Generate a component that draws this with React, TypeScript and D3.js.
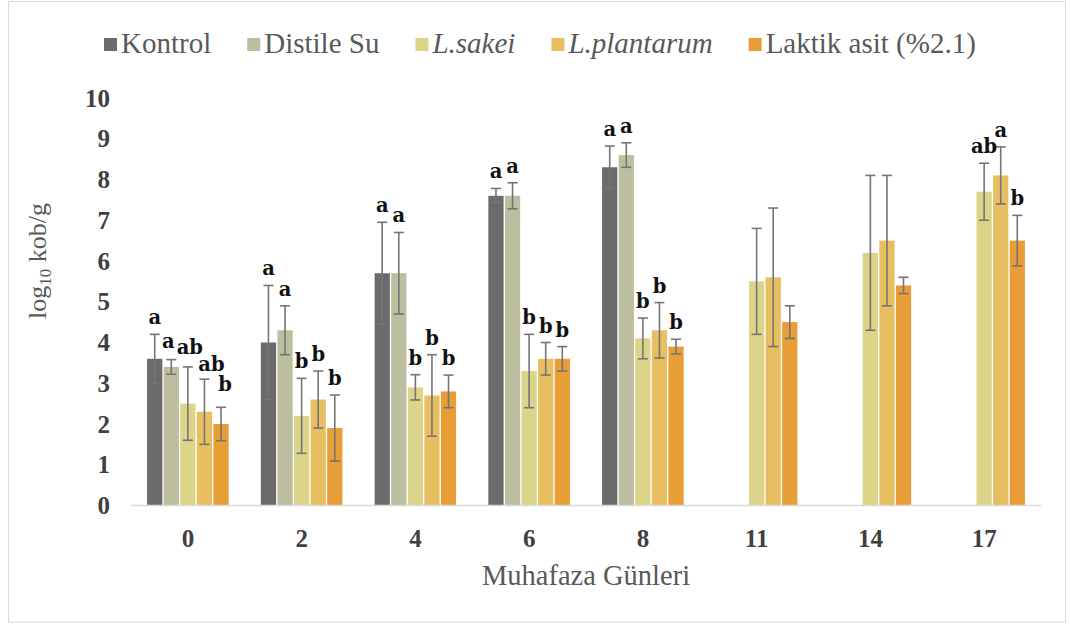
import React, { useEffect, useRef } from "react";
import * as d3 from "d3";

const days = ["0", "2", "4", "6", "8", "11", "14", "17"];
const seriesNames = ["Kontrol", "Distile Su", "L.sakei", "L.plantarum", "Laktik asit (%2.1)"];
const seriesItalic = [false, false, true, true, false];
const seriesColors = ["#6b6b6b", "#bdbda0", "#dcd489", "#e7be60", "#e99d37"];

const kontrol = [3.6, 4.0, 5.7, 7.6, 8.3, null, null, null];
const kontrolErr = [0.6, 1.4, 1.25, 0.18, 0.52, null, null, null];
const distile = [3.4, 4.3, 5.7, 7.6, 8.6, null, null, null];
const distileErr = [0.18, 0.6, 1.0, 0.32, 0.3, null, null, null];
const sakei = [2.5, 2.2, 2.9, 3.3, 4.1, 5.5, 6.2, 7.7];
const sakeiErr = [0.9, 0.92, 0.31, 0.9, 0.5, 1.3, 1.9, 0.7];
const plantarum = [2.3, 2.6, 2.7, 3.6, 4.3, 5.6, 6.5, 8.1];
const plantarumErr = [0.8, 0.7, 1.0, 0.4, 0.68, 1.7, 1.6, 0.7];
const laktik = [2.0, 1.9, 2.8, 3.6, 3.9, 4.5, 5.4, 6.5];
const laktikErr = [0.41, 0.81, 0.4, 0.3, 0.18, 0.4, 0.2, 0.62];

const kontrolLetters = ["a", "a", "a", "a", "a", "", "", ""];
const distileLetters = ["a", "a", "a", "a", "a", "", "", ""];
const sakeiLetters = ["ab", "b", "b", "b", "b", "", "", "ab"];
const plantarumLetters = ["ab", "b", "b", "b", "b", "", "", "a"];
const laktikLetters = ["b", "b", "b", "b", "b", "", "", "b"];

// small manual nudges of the letter labels in the crowded first group (dx, dy) per series
const firstGroupNudgeX = [0, -3, 2, 7, 4];
const firstGroupNudgeY = [0, -2, -3, 2, -6];

const yTicks = [0, 1, 2, 3, 4, 5, 6, 7, 8, 9, 10];

const seriesValues = [kontrol, distile, sakei, plantarum, laktik];
const seriesErrors = [kontrolErr, distileErr, sakeiErr, plantarumErr, laktikErr];
const seriesLetters = [kontrolLetters, distileLetters, sakeiLetters, plantarumLetters, laktikLetters];

const W = 1070;
const H = 624;
const SERIF = "'Liberation Serif', 'Times New Roman', serif";

export default function App() {
  const legendRef = useRef<SVGGElement>(null);

  const x0 = d3.scaleBand<string>().domain(days).range([131, 1041]).paddingInner(0.283).paddingOuter(0.1415);
  const x1 = d3.scaleBand<number>().domain(d3.range(5)).range([0, x0.bandwidth()]).paddingInner(0.08);
  const y = d3.scaleLinear().domain([0, 10]).range([505.5, 98]);

  useEffect(() => {
    const g = d3.select(legendRef.current);
    g.selectAll("*").remove();
    let cx = 104;
    seriesNames.forEach((name, i) => {
      g.append("rect").attr("x", cx).attr("y", 38).attr("width", 13).attr("height", 13).attr("fill", seriesColors[i]);
      const t = g
        .append("text")
        .attr("x", cx + 17)
        .attr("y", 53)
        .attr("font-family", SERIF)
        .attr("font-size", 29)
        .attr("font-style", seriesItalic[i] ? "italic" : "normal")
        .attr("fill", "#595959")
        .text(name);
      const w = (t.node() as SVGTextElement).getComputedTextLength();
      cx = cx + 17 + w + 36;
    });
  }, []);

  const bars: any[] = [];
  seriesValues.forEach((vals, s) => {
    vals.forEach((v, d) => {
      if (v == null) return;
      bars.push({ s, d, v, e: seriesErrors[s][d], l: seriesLetters[s][d] });
    });
  });

  const cap = 5;

  return (
    <svg width={W} height={H} style={{ position: "absolute", left: 0, top: 0 }}>
      <rect x={0} y={0} width={W} height={H} fill="#ffffff" />
      <rect x={8.5} y={1.5} width={1057} height={620.5} fill="none" stroke="#d9d9d9" strokeWidth={1} />
      <g ref={legendRef} />
      {yTicks.map((t) => (
        <text
          key={t}
          x={110}
          y={y(t)}
          dy="0.34em"
          textAnchor="end"
          fontFamily={SERIF}
          fontWeight="bold"
          fontSize={25}
          fill="#404040"
        >
          {t}
        </text>
      ))}
      <text
        transform="translate(46,261) rotate(-90)"
        textAnchor="middle"
        fontFamily={SERIF}
        fontSize={26}
        fill="#595959"
      >
        log
        <tspan fontSize={17} dy="0.3em">10</tspan>
        <tspan dy="-0.19em"> kob/g</tspan>
      </text>
      {bars.map((b) => {
        const bx = (x0(days[b.d]) as number) + (x1(b.s) as number);
        return (
          <rect
            key={`b${b.s}-${b.d}`}
            x={bx}
            y={y(b.v)}
            width={x1.bandwidth()}
            height={y(0) - y(b.v)}
            fill={seriesColors[b.s]}
          />
        );
      })}
      <line x1={131} x2={1041} y1={y(0)} y2={y(0)} stroke="#d9d9d9" strokeWidth={1.5} />
      {bars.map((b) => {
        const cx = (x0(days[b.d]) as number) + (x1(b.s) as number) + x1.bandwidth() / 2;
        const top = y(b.v + b.e);
        const bot = y(b.v - b.e);
        return (
          <g key={`e${b.s}-${b.d}`} stroke="#757575" strokeWidth={1.6}>
            <line x1={cx} x2={cx} y1={top} y2={bot} />
            <line x1={cx - cap} x2={cx + cap} y1={top} y2={top} />
            <line x1={cx - cap} x2={cx + cap} y1={bot} y2={bot} />
          </g>
        );
      })}
      {bars.map((b) => {
        if (!b.l) return null;
        const cx = (x0(days[b.d]) as number) + (x1(b.s) as number) + x1.bandwidth() / 2;
        const nx = b.d === 0 ? firstGroupNudgeX[b.s] : 0;
        const ny = b.d === 0 ? firstGroupNudgeY[b.s] : 0;
        return (
          <text
            key={`l${b.s}-${b.d}`}
            x={cx + nx}
            y={y(b.v + b.e) - 10 + ny}
            textAnchor="middle"
            fontFamily="'DejaVu Serif', serif"
            fontWeight="bold"
            fontSize={19.5}
            fill="#111111"
          >
            {b.l}
          </text>
        );
      })}
      {days.map((d) => (
        <text
          key={d}
          x={(x0(d) as number) + x0.bandwidth() / 2}
          y={546.5}
          textAnchor="middle"
          fontFamily={SERIF}
          fontWeight="bold"
          fontSize={25}
          fill="#404040"
        >
          {d}
        </text>
      ))}
      <text x={586} y={585} textAnchor="middle" fontFamily={SERIF} fontSize={28.5} fill="#595959">
        Muhafaza Günleri
      </text>
    </svg>
  );
}
